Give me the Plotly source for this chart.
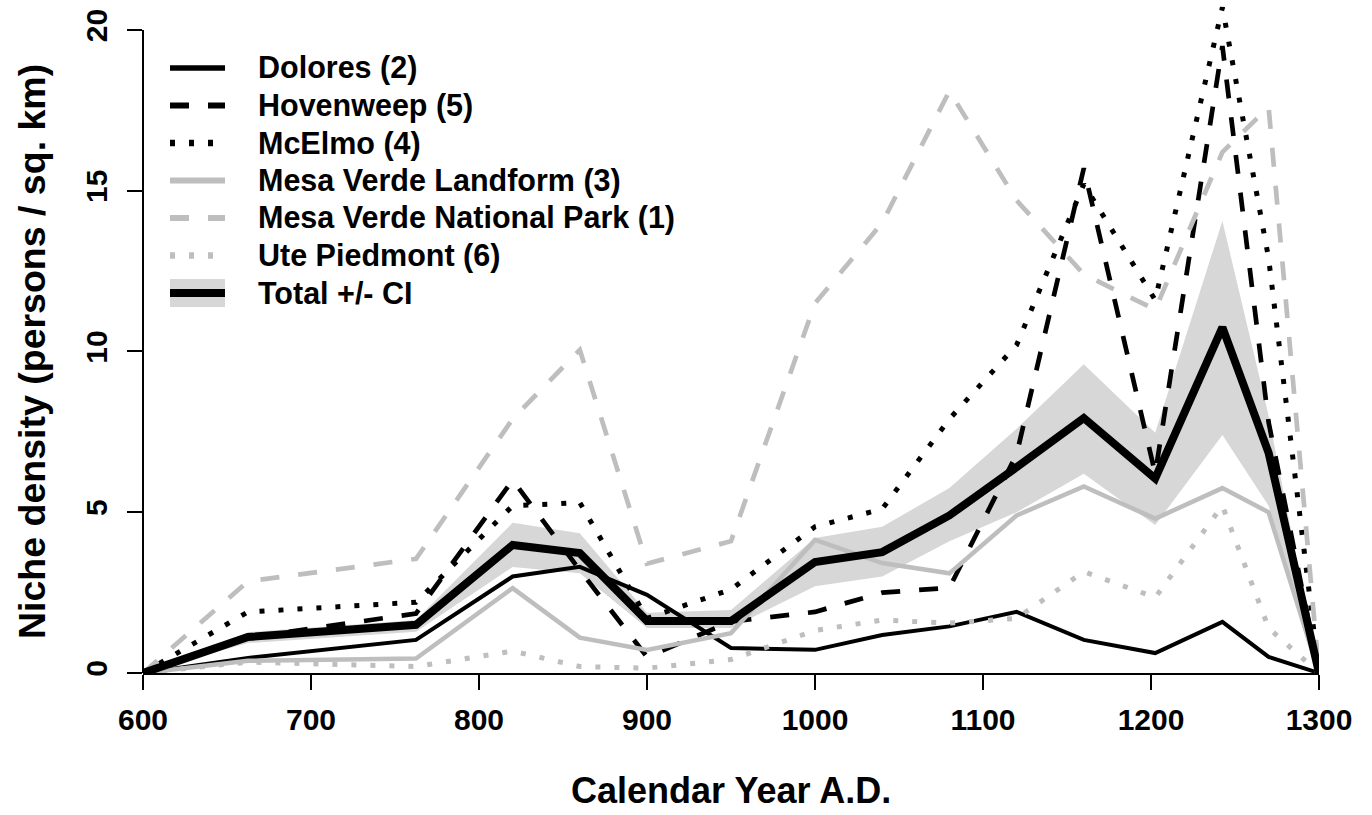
import plotly.graph_objects as go

# ---------------- data ----------------
years = [600, 662.5, 762.5, 820, 860, 900, 950, 1000, 1040, 1080, 1120, 1160, 1202.5, 1242.5, 1270, 1300]

dolores    = [0, 0.47, 1.03, 3.0, 3.3, 2.43, 0.78, 0.72, 1.18, 1.45, 1.9, 1.03, 0.62, 1.59, 0.5, 0]
hovenweep  = [0, 1.1, 1.85, 6.0, 3.2, 0.5, 1.6, 1.9, 2.5, 2.65, 6.8, 15.7, 6.2, 19.5, 7.8, 0]
mcelmo     = [0, 1.9, 2.2, 5.2, 5.3, 1.7, 2.6, 4.55, 5.1, 7.9, 10.2, 15.2, 11.6, 20.7, 12.9, 0]
mv_land    = [0, 0.38, 0.45, 2.64, 1.1, 0.72, 1.24, 4.14, 3.42, 3.1, 4.9, 5.8, 4.8, 5.75, 5.0, 0]
mv_park    = [0, 2.85, 3.55, 7.9, 10.05, 3.4, 4.1, 11.5, 14.0, 18.1, 14.7, 12.4, 11.3, 16.2, 17.6, 0]
ute        = [0, 0.34, 0.2, 0.68, 0.2, 0.15, 0.42, 1.32, 1.65, 1.55, 1.7, 3.15, 2.35, 5.2, 1.4, 0]
total      = [0, 1.12, 1.5, 3.98, 3.73, 1.62, 1.62, 3.45, 3.76, 4.9, 6.4, 7.93, 6.05, 10.75, 6.85, 0]
total_hi   = [0, 1.27, 1.65, 4.67, 4.35, 1.87, 1.96, 4.2, 4.55, 5.75, 7.6, 9.6, 7.47, 14.06, 8.0, 0]
total_lo   = [0, 0.93, 1.28, 3.3, 3.1, 1.4, 1.4, 2.7, 3.0, 4.1, 5.0, 6.2, 4.6, 7.4, 5.2, 0]

series_names = ["Dolores (2)", "Hovenweep (5)", "McElmo (4)", "Mesa Verde Landform (3)",
                "Mesa Verde National Park (1)", "Ute Piedmont (6)"]
total_name = "Total +/- CI"

x_tick_vals = [600, 700, 800, 900, 1000, 1100, 1200, 1300]
y_tick_vals = [0, 5, 10, 15, 20]

x_title = "Calendar Year A.D."
y_title = "Niche density (persons / sq. km)"

# ---------------- styles ----------------
GRAY = "#BEBEBE"
BAND = "#D7D7D7"
DASH = "19px,19px"
DOT = "5px,14px"
FONT = "Liberation Sans, Arial, Helvetica, sans-serif"

styles = [
    dict(color="black", width=4, dash="solid"),
    dict(color="black", width=4.7, dash=DASH),
    dict(color="black", width=5, dash=DOT),
    dict(color=GRAY, width=4.5, dash="solid"),
    dict(color=GRAY, width=4.7, dash=DASH),
    dict(color=GRAY, width=5, dash=DOT),
]
series_vals = [dolores, hovenweep, mcelmo, mv_land, mv_park, ute]

# geometry (pixels) of the 1372x815 canvas
W, H = 1372, 815
L, R, T, B = 143, 53, 1, 142
PW, PH = W - L - R, H - T - B


def px(xp):
    return (xp - L) / PW


def py(yp):
    return (H - B - yp) / PH


fig = go.Figure()

# CI band
fig.add_trace(go.Scatter(x=years, y=total_lo, mode="lines", line=dict(width=0, color=BAND),
                         showlegend=False, hoverinfo="skip"))
fig.add_trace(go.Scatter(x=years, y=total_hi, mode="lines", line=dict(width=0, color=BAND),
                         fill="tonexty", fillcolor=BAND, showlegend=False, hoverinfo="skip"))

for name, ys, st in zip(series_names, series_vals, styles):
    fig.add_trace(go.Scatter(x=years, y=ys, mode="lines", name=name,
                             line=dict(color=st["color"], width=st["width"], dash=st["dash"]),
                             showlegend=False))

fig.add_trace(go.Scatter(x=years, y=total, mode="lines", name=total_name,
                         line=dict(color="black", width=8), showlegend=False))

# ---------------- manual legend (R style, no box) ----------------
shapes = []
annotations = []
row0, row_gap = 68, 37.5
sx0, sx1, tx = 170, 225, 256
for i, (name, st) in enumerate(zip(series_names + [total_name], styles + [None])):
    yc = row0 + i * row_gap
    if st is None:
        shapes.append(dict(type="rect", xref="paper", yref="paper",
                           x0=px(sx0), x1=px(sx1), y0=py(yc + 14), y1=py(yc - 14),
                           fillcolor=BAND, line=dict(width=0), layer="above"))
        shapes.append(dict(type="line", xref="paper", yref="paper",
                           x0=px(sx0), x1=px(sx1), y0=py(yc), y1=py(yc),
                           line=dict(color="black", width=8), layer="above"))
    else:
        shapes.append(dict(type="line", xref="paper", yref="paper",
                           x0=px(sx0), x1=px(sx1), y0=py(yc), y1=py(yc),
                           line=dict(color=st["color"], width=st["width"] + 1.5, dash=st["dash"]),
                           layer="above"))
    annotations.append(dict(text=name, xref="paper", yref="paper", x=px(tx), y=py(yc),
                            xanchor="left", yanchor="middle", showarrow=False,
                            font=dict(family=FONT, size=30.5, color="black", weight=700)))

# y axis line only from 0 to 20 (R style)
shapes.append(dict(type="line", xref="paper", yref="paper", x0=0, x1=0,
                   y0=0, y1=20 / 20.9, line=dict(color="black", width=2), layer="above"))

# axis titles
annotations.append(dict(text=x_title, xref="paper", yref="paper", x=0.5, y=py(790),
                        xanchor="center", yanchor="middle", showarrow=False,
                        font=dict(family=FONT, size=36, color="black", weight=700)))
annotations.append(dict(text=y_title, xref="paper", yref="paper", x=px(32), y=py(352),
                        xanchor="center", yanchor="middle", showarrow=False, textangle=-90,
                        font=dict(family=FONT, size=37.5, color="black", weight=700)))

fig.update_layout(
    width=W, height=H,
    margin=dict(l=L, r=R, t=T, b=B, pad=0),
    paper_bgcolor="white", plot_bgcolor="white",
    showlegend=False,
    shapes=shapes, annotations=annotations,
    font=dict(family=FONT, color="black"),
    xaxis=dict(range=[600, 1300], tickvals=x_tick_vals, ticktext=[str(v) for v in x_tick_vals],
               showgrid=False, zeroline=False, showline=True, linecolor="black", linewidth=2,
               ticks="outside", ticklen=15, tickwidth=2, tickcolor="black",
               tickfont=dict(family=FONT, size=30, color="black", weight=700),
               ticklabelstandoff=4),
    yaxis=dict(range=[0, 20.9], tickvals=y_tick_vals, ticktext=[str(v) for v in y_tick_vals],
               showgrid=False, zeroline=False, showline=False,
               ticks="outside", ticklen=15, tickwidth=2, tickcolor="black", tickangle=-90,
               tickfont=dict(family=FONT, size=30, color="black", weight=700),
               ticklabelstandoff=8),
)

fig.write_html("out.html")
